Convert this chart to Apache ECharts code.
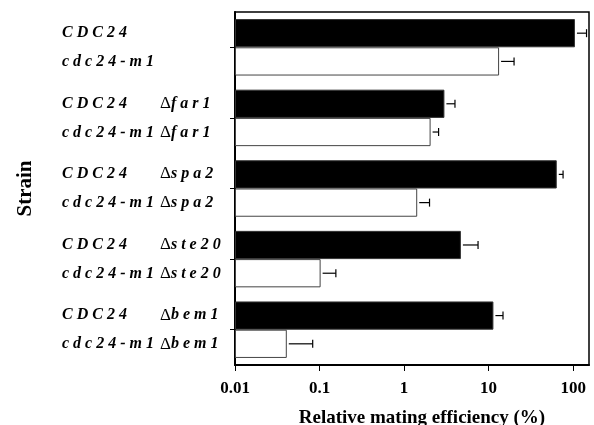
<!DOCTYPE html>
<html>
<head>
<meta charset="utf-8">
<script src="https://cdn.jsdelivr.net/npm/echarts@6/dist/echarts.min.js"></script>
<style>
  html, body { margin: 0; padding: 0; background: #fff; }
  #chart { width: 594px; height: 425px; }
</style>
</head>
<body>
<div id="chart"></div>
<script>
// deletion in each strain pair ('' = no deletion)
const deletions = ['', 'far1', 'spa2', 'ste20', 'bem1'];
// CDC24 (black bars) and cdc24-m1 (white bars), relative mating efficiency in %
const wildType = [105, 3.0, 64, 4.7, 11.4];
const wildTypeErr = [144, 4.0, 76, 7.5, 14.8];
const mutant = [13.3, 2.06, 1.43, 0.103, 0.041];
const mutantErr = [20, 2.56, 2.0, 0.156, 0.083];
const xTicks = [0.01, 0.1, 1, 10, 100];

const serif = '"Liberation Serif", "DejaVu Serif", serif';

// the original figure sets its strain names letter-spaced
const spaced = s => s.split('').join(' ');

let chart = echarts.init(document.getElementById('chart'));

// error bar: line from bar end to the upper value, with a small cap
function errorBar(side) {
  return function (params, api) {
    let cat = api.value(1);
    let a = api.coord([api.value(0), cat]);
    let b = api.coord([api.value(2), cat]);
    let band = api.size([0, 1])[1];
    let y = a[1] + side * band * 0.2;
    return {
      type: 'group',
      children: [
        { type: 'line', shape: { x1: a[0] + 2, y1: y, x2: b[0], y2: y }, style: { stroke: '#000', lineWidth: 1.2 } },
        { type: 'line', shape: { x1: b[0], y1: y - 4, x2: b[0], y2: y + 4 }, style: { stroke: '#000', lineWidth: 1.2 } }
      ]
    };
  };
}

function strainLabel(d) {
  let del = d ? '{g|Δ}{b|' + spaced(d) + '}' : '';
  return '{a|' + spaced('CDC24') + '}' + del + '\n{a|' + spaced('cdc24-m1') + '}' + del;
}

let italic = { fontFamily: serif, fontStyle: 'italic', fontWeight: 'bold', fontSize: 16, color: '#000', lineHeight: 29 };

let option = {
  animation: false,
  backgroundColor: '#fff',
  grid: {
    left: 235,
    right: 5,
    top: 12,
    bottom: 60,
    outerBoundsMode: 'none',
    containLabel: false,
    show: true,
    borderColor: '#000',
    borderWidth: 1.5
  },
  xAxis: {
    type: 'log',
    logBase: 10,
    min: 0.01,
    max: 154,
    startValue: 0.01,
    name: 'Relative mating efficiency (%)',
    nameLocation: 'middle',
    nameGap: 44,
    nameTextStyle: { fontFamily: serif, fontWeight: 'bold', fontSize: 19, color: '#000', padding: [0, 0, 0, 20] },
    axisLine: { show: true, lineStyle: { color: '#000', width: 2 } },
    axisTick: { show: true, length: 6, customValues: xTicks, lineStyle: { color: '#000', width: 1 } },
    axisLabel: {
      customValues: xTicks,
      margin: 15,
      fontFamily: serif,
      fontWeight: 'bold',
      fontSize: 17,
      color: '#000',
      formatter: v => String(v)
    },
    splitLine: { show: false }
  },
  yAxis: {
    type: 'category',
    inverse: true,
    data: deletions,
    name: 'Strain',
    nameLocation: 'middle',
    nameGap: 199,
    nameTextStyle: { fontFamily: serif, fontWeight: 'bold', fontSize: 21, color: '#000' },
    axisLine: { show: true, lineStyle: { color: '#000', width: 2 } },
    axisTick: { show: true, alignWithLabel: true, length: 5, lineStyle: { color: '#000', width: 1 } },
    axisLabel: {
      align: 'left',
      margin: 173,
      lineHeight: 29,
      formatter: strainLabel,
      rich: {
        a: Object.assign({ width: 98 }, italic),
        g: Object.assign({}, italic, { fontStyle: 'normal', fontWeight: 'normal', fontSize: 17 }),
        b: italic
      }
    }
  },
  series: [
    {
      name: 'CDC24',
      type: 'bar',
      data: wildType,
      barGap: 0,
      barCategoryGap: '20%',
      itemStyle: { color: '#000', borderColor: '#333', borderWidth: 1 }
    },
    {
      name: 'cdc24-m1',
      type: 'bar',
      data: mutant,
      itemStyle: { color: '#fff', borderColor: '#444', borderWidth: 1 }
    },
    {
      type: 'custom',
      renderItem: errorBar(-1),
      encode: { x: 0, y: 1 },
      data: wildType.map((v, i) => [v, i, wildTypeErr[i]]),
      z: 5
    },
    {
      type: 'custom',
      renderItem: errorBar(1),
      encode: { x: 0, y: 1 },
      data: mutant.map((v, i) => [v, i, mutantErr[i]]),
      z: 5
    }
  ]
};

chart.setOption(option);
</script>
</body>
</html>
